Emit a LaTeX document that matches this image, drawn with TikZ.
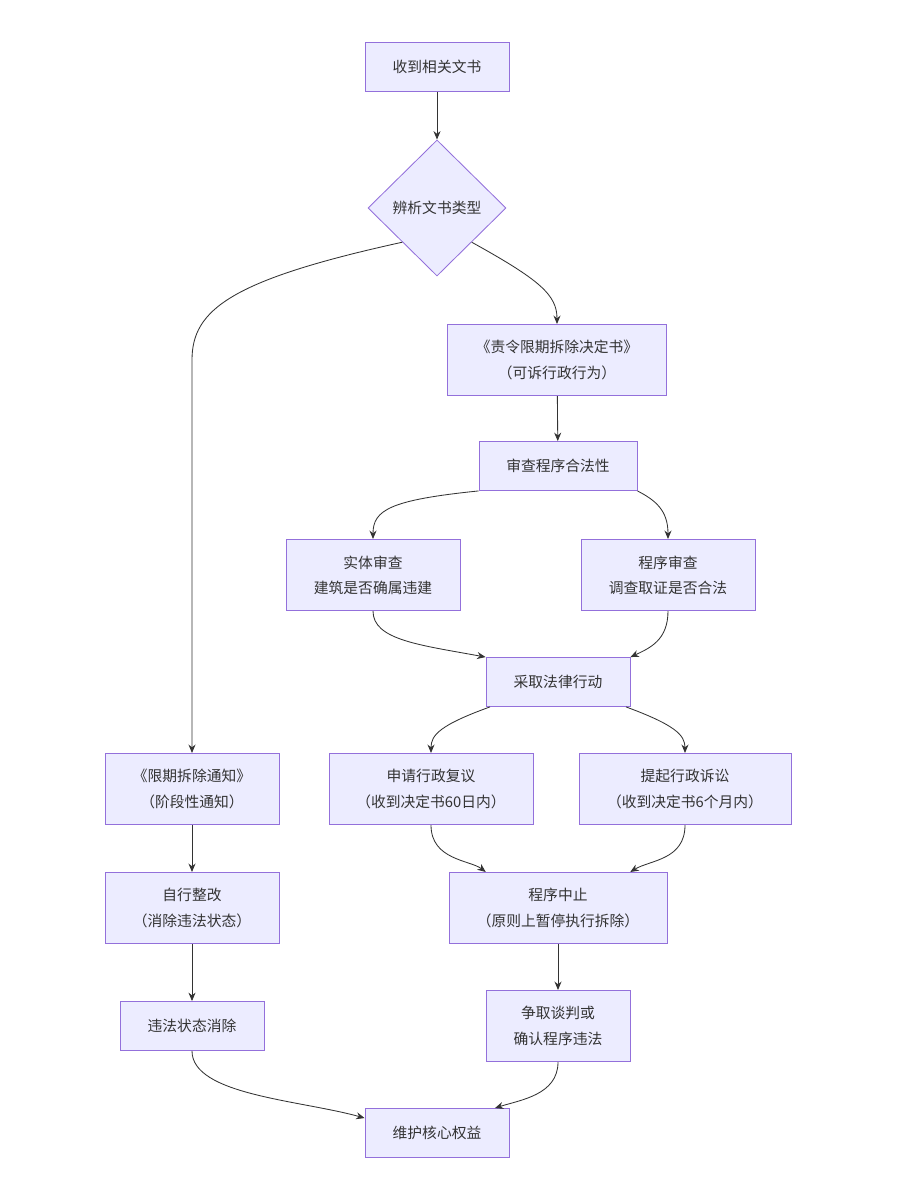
\documentclass[tikz,border=0pt]{standalone}
\usepackage{fontspec}
\setmainfont{Noto Sans CJK SC}
\usetikzlibrary{shapes.geometric,arrows.meta,calc}
\definecolor{boxFill}{HTML}{ECECFF}
\definecolor{boxLine}{HTML}{9370DB}
\definecolor{lineDark}{HTML}{333333}

\begin{document}
\begin{tikzpicture}[x=0.025cm, y=-0.025cm]
  \tikzset{box/.style={draw=boxLine, fill=boxFill, line width=0.6pt, align=center, font=\fontsize{10.5}{18}\selectfont, text=lineDark, inner sep=0pt, minimum height=1.225cm},
    tall/.style={box, minimum height=1.78cm},
    choice/.style={diamond, draw=boxLine, fill=boxFill, line width=0.6pt, font=\fontsize{10.5}{18}\selectfont, text=lineDark, minimum width=3.45cm, minimum height=3.4cm, inner sep=0pt},
    flow/.style={draw=lineDark, line width=0.6pt, -{Stealth[length=6pt,width=5pt]}}}
  \useasboundingbox (0,0) rectangle (900,1190);

  % nodes
  \node[box, minimum width=3.6cm] (recv) at (437,67) {收到相关文书};
  \node[choice] (kind) at (437,208) {辨析文书类型};
  \node[tall, minimum width=5.475cm] (order) at (557,360) {《责令限期拆除决定书》\\（可诉行政行为）};
  \node[box, minimum width=3.95cm] (check) at (558,466) {审查程序合法性};
  \node[tall, minimum width=4.35cm] (subst) at (373,575) {实体审查\\建筑是否确属违建};
  \node[tall, minimum width=4.35cm] (proc) at (668,575) {程序审查\\调查取证是否合法};
  \node[box, minimum width=3.6cm] (act) at (558,682) {采取法律行动};
  \node[tall, minimum width=5.1cm] (review) at (431,789) {申请行政复议\\（收到决定书60日内）};
  \node[tall, minimum width=5.3cm] (suit) at (685,789) {提起行政诉讼\\（收到决定书6个月内）};
  \node[tall, minimum width=5.45cm] (halt) at (558,908) {程序中止\\（原则上暂停执行拆除）};
  \node[tall, minimum width=3.6cm] (talk) at (558,1026) {争取谈判或\\确认程序违法};
  \node[tall, minimum width=4.35cm] (notice) at (192,789) {《限期拆除通知》\\（阶段性通知）};
  \node[tall, minimum width=4.35cm] (fix) at (192,908) {自行整改\\（消除违法状态）};
  \node[box, minimum width=3.6cm] (gone) at (192,1026) {违法状态消除};
  \node[box, minimum width=3.6cm] (keep) at (437,1133) {维护核心权益};

  % connectors
  \draw[flow] (recv) -- (kind);
  \draw[flow] (kind.south east) .. controls (540,280) and (557,295) .. (order.north);
  \draw[flow] (kind.south west) .. controls (230,280) and (192,310) .. (192,360) -- (notice.north);
  \draw[flow] (order) -- (check);
  \draw[flow] (check.south west) .. controls (390,500) and (373,510) .. (subst.north);
  \draw[flow] (check.south east) .. controls (655,500) and (668,510) .. (proc.north);
  \draw[flow] (subst.south) .. controls (373,640) and (420,645) .. (act.north west);
  \draw[flow] (proc.south) .. controls (668,640) and (650,648) .. (act.north east);
  \draw[flow] ($(act.south west)!0.03!(act.south east)$) .. controls (440,725) and (431,735) .. (review.north);
  \draw[flow] ($(act.south west)!0.97!(act.south east)$) .. controls (675,725) and (685,735) .. (suit.north);
  \draw[flow] (review.south) .. controls (431,860) and (470,860) .. ($(halt.north west)!0.17!(halt.north east)$);
  \draw[flow] (suit.south) .. controls (685,860) and (650,860) .. ($(halt.north west)!0.83!(halt.north east)$);
  \draw[flow] (halt) -- (talk);
  \draw[flow] (talk.south) .. controls (558,1095) and (520,1100) .. ($(keep.north west)!0.9!(keep.north east)$);
  \draw[flow] (notice) -- (fix);
  \draw[flow] (fix) -- (gone);
  \draw[flow] (gone.south) .. controls (192,1095) and (300,1100) .. ($(keep.north west)!0.2!(keep.south west)$);
\end{tikzpicture}
\end{document}
